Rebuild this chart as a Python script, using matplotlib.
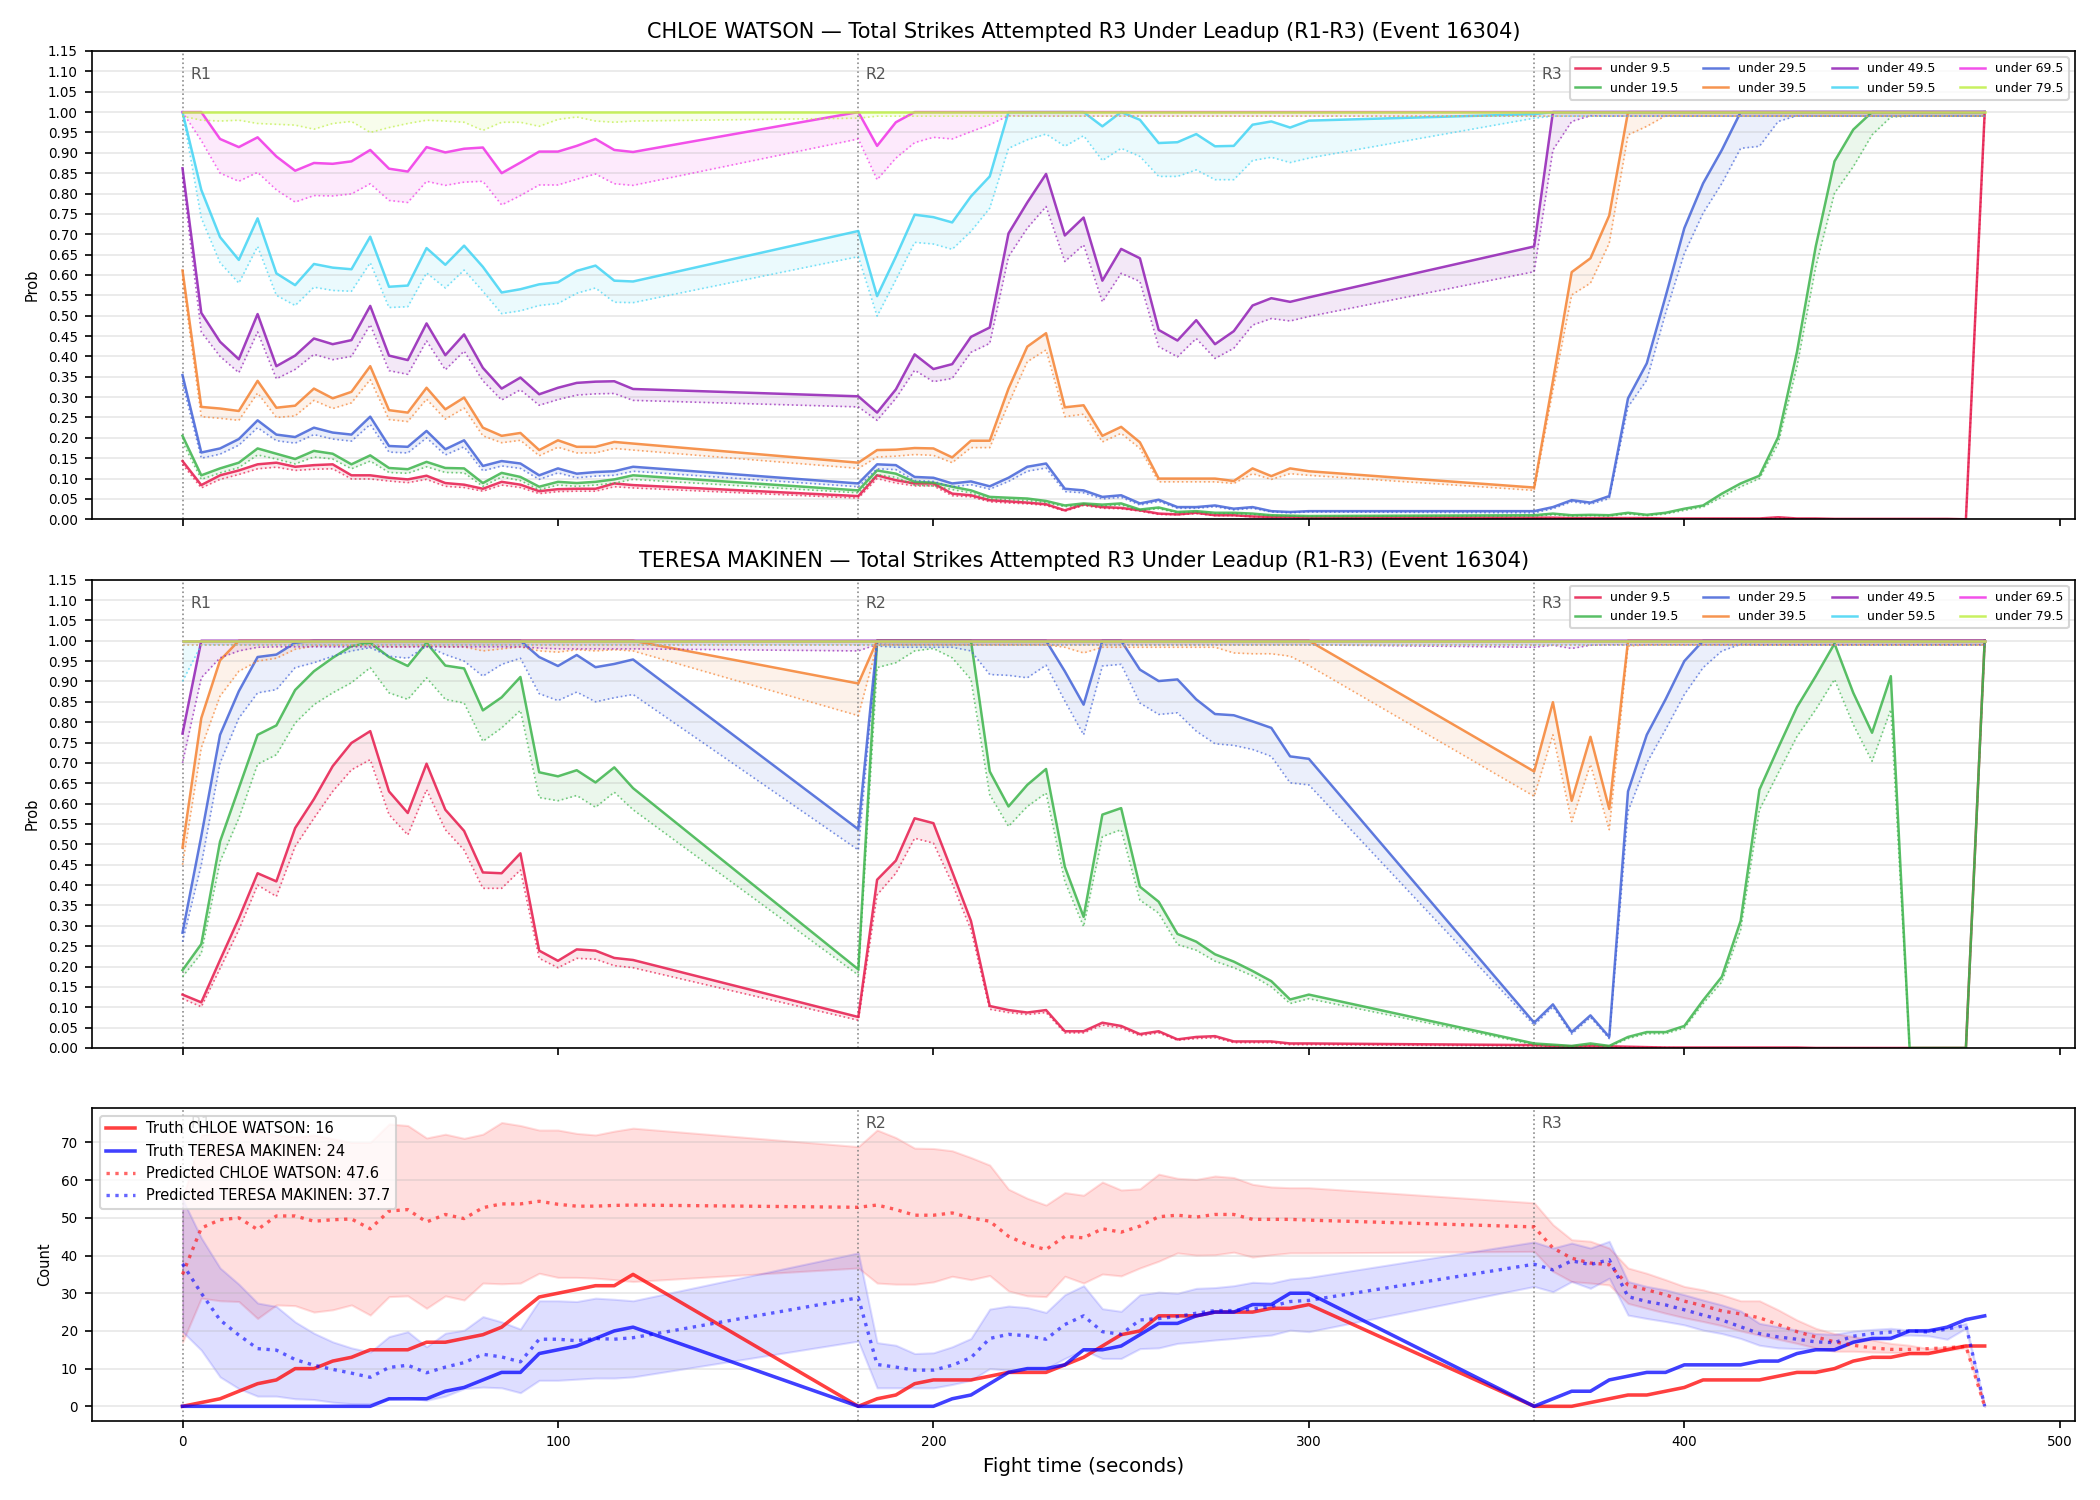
import matplotlib
matplotlib.use("Agg")
import matplotlib.pyplot as plt
import numpy as np

# sample times (s): every 5 s in the tracked part of each round
T = list(range(0, 121, 5)) + list(range(180, 301, 5)) + list(range(360, 481, 5))
ROUND_STARTS = [0, 180, 360]
ROUND_NAMES = ["R1", "R2", "R3"]
THRESHOLDS = [9.5, 19.5, 29.5, 39.5, 49.5, 59.5, 69.5, 79.5]
COLORS = ['#e6194b', '#3cb44b', '#4363d8', '#f58231',
          '#911eb4', '#42d4f4', '#f032e6', '#bfef45']

FIGHTER_A = "CHLOE WATSON"
FIGHTER_B = "TERESA MAKINEN"
EVENT = 16304

# ---------------- CHLOE WATSON: P(under X) ----------------
CW_U9_HI = ([0.143, 0.084, 0.108, 0.120, 0.135, 0.139, 0.129, 0.133, 0.135, 0.108,
             0.108, 0.102, 0.098, 0.107, 0.089, 0.085, 0.075, 0.092, 0.085, 0.069,
             0.074, 0.075, 0.075, 0.088, 0.084]
            + [0.057, 0.108, 0.096, 0.088, 0.088, 0.063, 0.059, 0.047, 0.044, 0.041,
               0.037, 0.022, 0.037, 0.030, 0.028, 0.022, 0.014, 0.012, 0.016, 0.010,
               0.010, 0.007, 0.006, 0.006, 0.004]
            + [0.004, 0.004, 0.003, 0.003, 0.003, 0.003, 0.003, 0.002, 0.002, 0.002,
               0.002, 0.002, 0.002, 0.005, 0.002, 0.002, 0.001, 0.001, 0.001, 0.001,
               0.001, 0.001, 0.001, 0.000, 1.000])
CW_U9_LO = ([0.135, 0.077, 0.098, 0.110, 0.124, 0.128, 0.120, 0.123, 0.124, 0.099,
             0.099, 0.094, 0.090, 0.098, 0.081, 0.078, 0.069, 0.084, 0.078, 0.063,
             0.068, 0.069, 0.069, 0.080, 0.077]
            + [0.052, 0.100, 0.089, 0.082, 0.082, 0.058, 0.055, 0.043, 0.040, 0.038,
               0.034, 0.020, 0.034, 0.027, 0.026, 0.020, 0.012, 0.011, 0.014, 0.009,
               0.009, 0.006, 0.005, 0.005, 0.003]
            + [0.003, 0.003, 0.002, 0.002, 0.002, 0.002, 0.002, 0.001, 0.001, 0.001,
               0.001, 0.001, 0.001, 0.004, 0.001, 0.001, 0.001, 0.0, 0.0, 0.0,
               0.0, 0.0, 0.0, 0.0, 0.99])

CW_U19_HI = ([0.205, 0.108, 0.125, 0.139, 0.174, 0.161, 0.148, 0.168, 0.161, 0.135,
              0.157, 0.126, 0.123, 0.141, 0.126, 0.125, 0.089, 0.114, 0.104, 0.080,
              0.092, 0.089, 0.092, 0.098, 0.108]
             + [0.071, 0.120, 0.112, 0.092, 0.090, 0.080, 0.071, 0.055, 0.053, 0.051,
                0.045, 0.034, 0.039, 0.036, 0.039, 0.024, 0.029, 0.018, 0.020, 0.016,
                0.016, 0.014, 0.010, 0.009, 0.008]
             + [0.010, 0.014, 0.010, 0.011, 0.010, 0.016, 0.011, 0.016, 0.026, 0.034,
                0.063, 0.088, 0.107, 0.202, 0.411, 0.670, 0.879, 0.957, 1.0, 1.0,
                1.0, 1.0, 1.0, 1.0, 1.0])
CW_U19_LO = ([0.190, 0.098, 0.114, 0.127, 0.158, 0.148, 0.136, 0.153, 0.148, 0.124,
              0.143, 0.115, 0.113, 0.129, 0.115, 0.114, 0.081, 0.104, 0.095, 0.073,
              0.084, 0.081, 0.084, 0.089, 0.098]
             + [0.065, 0.110, 0.103, 0.084, 0.082, 0.073, 0.065, 0.050, 0.048, 0.046,
                0.041, 0.031, 0.035, 0.033, 0.035, 0.022, 0.026, 0.016, 0.018, 0.014,
                0.014, 0.012, 0.009, 0.008, 0.007]
             + [0.008, 0.011, 0.008, 0.009, 0.008, 0.013, 0.009, 0.013, 0.022, 0.030,
                0.055, 0.080, 0.100, 0.186, 0.375, 0.620, 0.801, 0.866, 0.944, 0.988,
                0.99, 0.99, 0.99, 0.99, 0.99])

CW_U29_HI = ([0.354, 0.164, 0.174, 0.197, 0.243, 0.208, 0.202, 0.225, 0.213, 0.208,
              0.252, 0.180, 0.178, 0.217, 0.172, 0.194, 0.131, 0.143, 0.137, 0.108,
              0.125, 0.112, 0.116, 0.118, 0.129]
             + [0.088, 0.135, 0.133, 0.104, 0.102, 0.088, 0.093, 0.081, 0.102, 0.129,
                0.137, 0.075, 0.071, 0.055, 0.059, 0.039, 0.048, 0.030, 0.030, 0.034,
                0.026, 0.030, 0.020, 0.018, 0.020]
             + [0.020, 0.030, 0.047, 0.041, 0.057, 0.297, 0.383, 0.547, 0.715, 0.825,
                0.907] + [1.0] * 14)
CW_U29_LO = ([0.335, 0.150, 0.160, 0.182, 0.225, 0.193, 0.187, 0.208, 0.197, 0.192,
              0.233, 0.165, 0.163, 0.200, 0.158, 0.178, 0.119, 0.131, 0.125, 0.098,
              0.114, 0.102, 0.106, 0.108, 0.118]
             + [0.080, 0.124, 0.122, 0.095, 0.093, 0.080, 0.085, 0.074, 0.093, 0.118,
                0.126, 0.068, 0.065, 0.050, 0.054, 0.035, 0.044, 0.027, 0.027, 0.031,
                0.023, 0.027, 0.018, 0.016, 0.018]
             + [0.016, 0.026, 0.043, 0.037, 0.051, 0.276, 0.342, 0.506, 0.653, 0.752,
                0.825, 0.911, 0.916, 0.977, 0.991] + [0.99] * 10)

CW_U39_HI = ([0.611, 0.276, 0.272, 0.266, 0.340, 0.274, 0.279, 0.321, 0.297, 0.313,
              0.376, 0.268, 0.262, 0.323, 0.270, 0.299, 0.225, 0.205, 0.212, 0.170,
              0.194, 0.178, 0.178, 0.190, 0.186]
             + [0.139, 0.170, 0.171, 0.175, 0.174, 0.152, 0.193, 0.193, 0.321, 0.424,
                0.457, 0.275, 0.280, 0.205, 0.227, 0.189, 0.100, 0.100, 0.100, 0.100,
                0.094, 0.125, 0.106, 0.125, 0.118]
             + [0.078, 0.340, 0.607, 0.641, 0.746] + [1.0] * 20)
CW_U39_LO = ([0.590, 0.252, 0.248, 0.243, 0.310, 0.250, 0.254, 0.292, 0.272, 0.286,
              0.343, 0.245, 0.240, 0.295, 0.246, 0.273, 0.205, 0.188, 0.194, 0.156,
              0.177, 0.163, 0.163, 0.174, 0.170]
             + [0.125, 0.153, 0.155, 0.159, 0.157, 0.139, 0.176, 0.176, 0.284, 0.387,
                0.416, 0.252, 0.258, 0.190, 0.211, 0.174, 0.092, 0.092, 0.092, 0.092,
                0.088, 0.112, 0.098, 0.112, 0.108]
             + [0.071, 0.317, 0.551, 0.580, 0.678, 0.944, 0.965, 0.991] + [0.99] * 17)

CW_U49_HI = ([0.862, 0.507, 0.436, 0.393, 0.504, 0.376, 0.402, 0.444, 0.430, 0.440,
              0.524, 0.402, 0.391, 0.481, 0.403, 0.454, 0.372, 0.321, 0.348, 0.307,
              0.323, 0.335, 0.338, 0.339, 0.320]
             + [0.302, 0.262, 0.319, 0.405, 0.369, 0.381, 0.448, 0.471, 0.702, 0.778,
                0.848, 0.697, 0.741, 0.586, 0.664, 0.641, 0.465, 0.439, 0.489, 0.430,
                0.462, 0.525, 0.543, 0.534, 0.545]
             + [0.670] + [1.0] * 24)
CW_U49_LO = ([0.840, 0.460, 0.400, 0.360, 0.460, 0.345, 0.368, 0.405, 0.392, 0.400,
              0.478, 0.365, 0.356, 0.438, 0.367, 0.413, 0.340, 0.293, 0.318, 0.280,
              0.294, 0.305, 0.308, 0.309, 0.292]
             + [0.276, 0.243, 0.297, 0.366, 0.338, 0.346, 0.410, 0.432, 0.645, 0.715,
                0.768, 0.633, 0.674, 0.534, 0.604, 0.584, 0.424, 0.399, 0.444, 0.395,
                0.420, 0.477, 0.493, 0.487, 0.498]
             + [0.608, 0.907, 0.977, 0.991] + [0.99] * 21)

CW_U59_HI = ([1.0, 0.809, 0.693, 0.637, 0.739, 0.604, 0.575, 0.627, 0.618, 0.614,
              0.694, 0.571, 0.574, 0.666, 0.625, 0.672, 0.620, 0.557, 0.565, 0.577,
              0.582, 0.610, 0.623, 0.586, 0.584]
             + [0.708, 0.548, 0.645, 0.748, 0.742, 0.729, 0.793, 0.842, 1.0, 1.0,
                1.0, 1.0, 1.0, 0.965, 1.0, 0.981, 0.924, 0.926, 0.946, 0.916,
                0.917, 0.969, 0.977, 0.962, 0.979]
             + [0.995] + [1.0] * 24)
CW_U59_LO = ([1.0, 0.740, 0.630, 0.580, 0.670, 0.550, 0.525, 0.570, 0.562, 0.560,
              0.630, 0.520, 0.522, 0.605, 0.568, 0.612, 0.560, 0.505, 0.512, 0.525,
              0.530, 0.555, 0.568, 0.533, 0.532]
             + [0.645, 0.499, 0.588, 0.680, 0.676, 0.663, 0.707, 0.764, 0.911, 0.932,
                0.946, 0.916, 0.942, 0.881, 0.911, 0.891, 0.842, 0.842, 0.858, 0.834,
                0.834, 0.881, 0.889, 0.876, 0.887]
             + [0.985] + [0.99] * 24)

CW_U69_HI = ([1.0, 1.0, 0.934, 0.914, 0.938, 0.891, 0.856, 0.875, 0.873, 0.879,
              0.907, 0.861, 0.854, 0.914, 0.901, 0.910, 0.913, 0.850, 0.876, 0.903,
              0.903, 0.917, 0.934, 0.907, 0.902]
             + [1.0, 0.917, 0.975] + [1.0] * 22
             + [1.0] * 25)
CW_U69_LO = ([1.0, 0.930, 0.850, 0.830, 0.852, 0.809, 0.779, 0.795, 0.794, 0.799,
              0.824, 0.783, 0.778, 0.830, 0.820, 0.828, 0.830, 0.772, 0.795, 0.821,
              0.821, 0.835, 0.848, 0.824, 0.820]
             + [0.934, 0.834, 0.887, 0.925, 0.938, 0.934, 0.952, 0.969, 0.991] + [0.99] * 16
             + [0.99] * 25)

CW_U79_HI = [1.0] * 75
CW_U79_LO = ([0.99, 0.98, 0.978, 0.98, 0.972, 0.97, 0.968, 0.958, 0.972, 0.977,
              0.95, 0.962, 0.972, 0.98, 0.978, 0.975, 0.955, 0.975, 0.975, 0.965,
              0.982, 0.988, 0.978, 0.975, 0.978]
             + [0.985] + [0.99] * 24
             + [0.99] * 25)

# ---------------- TERESA MAKINEN: P(under X) ----------------
TM_U9_HI = ([0.131, 0.112, 0.216, 0.318, 0.429, 0.409, 0.540, 0.611, 0.692, 0.749,
             0.778, 0.630, 0.577, 0.698, 0.585, 0.533, 0.431, 0.429, 0.478, 0.239,
             0.214, 0.242, 0.239, 0.221, 0.216]
            + [0.076, 0.413, 0.460, 0.564, 0.552, 0.433, 0.312, 0.103, 0.093, 0.087,
               0.093, 0.041, 0.041, 0.062, 0.054, 0.034, 0.041, 0.021, 0.027, 0.029,
               0.016, 0.016, 0.016, 0.011, 0.011]
            + [0.007, 0.005, 0.004, 0.005, 0.004, 0.003, 0.002, 0.001, 0.001, 0.001,
               0.001, 0.001, 0.001, 0.001, 0.001, 0.0, 0.0, 0.0, 0.0, 0.0,
               0.0, 0.0, 0.0, 0.0, 1.0])
TM_U9_LO = ([0.121, 0.101, 0.195, 0.290, 0.400, 0.372, 0.495, 0.564, 0.630, 0.683,
             0.708, 0.573, 0.523, 0.634, 0.536, 0.486, 0.392, 0.392, 0.437, 0.220,
             0.197, 0.220, 0.218, 0.202, 0.197]
            + [0.068, 0.376, 0.429, 0.515, 0.503, 0.404, 0.290, 0.095, 0.087, 0.082,
               0.087, 0.037, 0.037, 0.056, 0.049, 0.030, 0.037, 0.019, 0.023, 0.025,
               0.013, 0.013, 0.013, 0.008, 0.008]
            + [0.005, 0.004, 0.003, 0.004, 0.003, 0.002, 0.001, 0.001] + [0.0] * 16 + [0.99])

TM_U19_HI = ([0.191, 0.255, 0.507, 0.638, 0.769, 0.792, 0.879, 0.925, 0.958, 0.987,
              0.995, 0.960, 0.938, 0.995, 0.939, 0.932, 0.829, 0.861, 0.911, 0.677,
              0.667, 0.682, 0.652, 0.689, 0.638]
             + [0.193, 1.0, 1.0, 1.0, 1.0, 1.0, 1.0, 0.679, 0.593, 0.646,
                0.685, 0.445, 0.322, 0.573, 0.589, 0.396, 0.359, 0.280, 0.261, 0.230,
                0.212, 0.189, 0.164, 0.119, 0.131]
             + [0.011, 0.008, 0.005, 0.011, 0.005, 0.027, 0.039, 0.039, 0.054, 0.117,
                0.175, 0.312, 0.634, 0.737, 0.837, 0.913, 0.993, 0.872, 0.774, 0.913,
                0.0, 0.0, 0.0, 0.0, 1.0])
TM_U19_LO = ([0.175, 0.232, 0.458, 0.564, 0.697, 0.720, 0.798, 0.843, 0.872, 0.897,
              0.934, 0.872, 0.856, 0.909, 0.856, 0.847, 0.753, 0.786, 0.829, 0.615,
              0.607, 0.620, 0.591, 0.628, 0.585]
             + [0.179, 0.934, 0.946, 0.975, 0.981, 0.958, 0.905, 0.622, 0.544, 0.593,
                0.626, 0.409, 0.298, 0.519, 0.536, 0.363, 0.331, 0.254, 0.240, 0.213,
                0.197, 0.177, 0.150, 0.109, 0.121]
             + [0.008, 0.006, 0.003, 0.008, 0.003, 0.023, 0.035, 0.035, 0.049, 0.109,
                0.162, 0.290, 0.585, 0.675, 0.765, 0.831, 0.905, 0.794, 0.704, 0.831,
                0.0, 0.0, 0.0, 0.0, 0.99])

TM_U29_HI = ([0.283, 0.520, 0.769, 0.876, 0.960, 0.966, 0.995] + [1.0] * 12
             + [0.960, 0.938, 0.965, 0.935, 0.943, 0.954]
             + [0.537] + [1.0] * 10
             + [0.925, 0.843, 1.0, 1.0, 0.929, 0.901, 0.905, 0.856, 0.820,
                0.817, 0.802, 0.786, 0.716, 0.710]
             + [0.062, 0.107, 0.039, 0.080, 0.027, 0.630, 0.769, 0.856, 0.950] + [1.0] * 16)
TM_U29_LO = ([0.261, 0.450, 0.700, 0.810, 0.872, 0.880, 0.934, 0.946, 0.962, 0.975,
              0.983, 0.962, 0.957, 0.987, 0.966, 0.950, 0.913, 0.942, 0.957, 0.870,
              0.853, 0.874, 0.850, 0.860, 0.868]
             + [0.486, 0.987, 0.984, 0.984, 0.984, 0.984, 0.975, 0.917, 0.915, 0.909,
                0.940, 0.852, 0.769, 0.938, 0.942, 0.847, 0.819, 0.823, 0.778, 0.747,
                0.743, 0.733, 0.716, 0.651, 0.646]
             + [0.056, 0.101, 0.034, 0.075, 0.023, 0.581, 0.700, 0.782, 0.868, 0.934,
                0.975, 0.991] + [0.99] * 13)

TM_U39_HI = ([0.492, 0.810, 0.952] + [1.0] * 22
             + [0.895] + [1.0] * 24
             + [0.679, 0.849, 0.607, 0.764, 0.587] + [1.0] * 20)
TM_U39_LO = ([0.450, 0.737, 0.864, 0.925, 0.950, 0.957, 0.979, 0.987, 0.988, 0.988,
              0.988, 0.985, 0.985, 0.988, 0.985, 0.985, 0.975, 0.980, 0.985, 0.975,
              0.972, 0.978, 0.975, 0.978, 0.975]
             + [0.816, 0.989, 0.99, 0.99, 0.99, 0.99, 0.99, 0.99, 0.99, 0.99,
                0.99, 0.984, 0.970, 0.984, 0.984, 0.984, 0.984, 0.984, 0.984, 0.984,
                0.970, 0.968, 0.968, 0.962, 0.939]
             + [0.618, 0.769, 0.556, 0.696, 0.536, 0.987] + [0.99] * 19)

TM_U49_HI = [0.772] + [1.0] * 74
TM_U49_LO = ([0.700, 0.909, 0.958, 0.975, 0.984] + [0.985] * 14 + [0.982] + [0.980] * 5
             + [0.975, 0.991] + [0.99] * 23
             + [0.984, 0.989, 0.981, 0.989] + [0.99] * 21)

TM_U59_HI = [1.0] * 75
TM_U59_LO = [0.90] + [0.99] * 74
TM_U69_HI = [1.0] * 75
TM_U69_LO = [0.99] * 75
TM_U79_HI = [1.0] * 75
TM_U79_LO = [0.99] * 75

# ---------------- counts (cumulative within round) ----------------
CW_TRUTH = ([0, 1, 2, 4, 6, 7, 10, 10, 12, 13, 15, 15, 15, 17, 17, 18, 19, 21, 25, 29,
             30, 31, 32, 32, 35]
            + [0, 2, 3, 6, 7, 7, 7, 8, 9, 9, 9, 11, 13, 16, 19, 20, 24, 24, 24, 25,
               25, 25, 26, 26, 27]
            + [0, 0, 0, 1, 2, 3, 3, 4, 5, 7, 7, 7, 7, 8, 9, 9, 10, 12, 13, 13,
               14, 14, 15, 16, 16])
TM_TRUTH = ([0, 0, 0, 0, 0, 0, 0, 0, 0, 0, 0, 2, 2, 2, 4, 5, 7, 9, 9, 14,
             15, 16, 18, 20, 21]
            + [0, 0, 0, 0, 0, 2, 3, 6, 9, 10, 10, 11, 15, 15, 16, 19, 22, 22, 24, 25,
               25, 27, 27, 30, 30]
            + [0, 2, 4, 4, 7, 8, 9, 9, 11, 11, 11, 11, 12, 12, 14, 15, 15, 17, 18, 18,
               20, 20, 21, 23, 24])

CW_PRED = ([35.0, 47.3, 49.5, 50.0, 46.9, 50.5, 50.5, 49.1, 49.5, 49.7,
            47.1, 51.8, 52.2, 48.9, 50.9, 49.8, 52.7, 53.7, 53.7, 54.4,
            53.6, 53.1, 53.1, 53.3, 53.4]
           + [52.8, 53.4, 52.2, 50.7, 50.7, 51.3, 50.0, 49.1, 45.1, 42.9,
              41.6, 45.1, 44.7, 47.1, 46.2, 47.8, 50.3, 50.7, 50.2, 50.9,
              50.9, 49.6, 49.6, 49.6, 49.4]
           + [47.6, 42.0, 39.3, 38.0, 37.6, 32.2, 30.9, 29.6, 27.9, 26.7,
              25.3, 24.5, 23.5, 21.7, 19.8, 18.4, 17.1, 16.2, 15.5, 15.1,
              15.1, 15.3, 15.5, 15.9, 0.0])
CW_PRED_HI = ([55.0, 72.0, 72.5, 73.0, 73.0, 72.0, 71.5, 72.0, 71.0, 70.0,
               70.0, 74.9, 74.5, 71.2, 72.2, 71.1, 72.2, 75.3, 74.5, 73.3,
               73.3, 72.4, 72.0, 73.0, 73.8]
              + [68.9, 73.3, 71.3, 68.5, 68.4, 67.8, 66.0, 64.0, 57.6, 55.2,
                 53.4, 56.7, 56.0, 59.5, 57.4, 57.7, 61.6, 60.5, 60.2, 61.1,
                 60.7, 58.9, 58.2, 58.0, 58.0]
              + [54.0, 48.2, 44.2, 43.8, 42.0, 36.7, 35.3, 33.6, 31.8, 30.9,
                 29.6, 28.0, 28.0, 25.6, 22.9, 20.7, 19.3, 18.5, 17.6, 16.7,
                 16.2, 15.3, 15.8, 16.4, 0.0])
CW_PRED_LO = ([17.0, 28.7, 28.0, 27.8, 23.3, 26.9, 26.7, 25.0, 25.6, 26.9,
               24.2, 29.1, 29.3, 26.0, 29.3, 28.2, 32.7, 32.5, 32.7, 35.3,
               34.2, 34.2, 34.0, 33.6, 33.1]
              + [36.7, 32.7, 32.4, 32.4, 33.0, 34.5, 33.6, 34.7, 30.6, 29.3,
                 29.1, 34.5, 32.7, 35.1, 34.6, 36.7, 38.5, 40.7, 40.1, 40.2,
                 40.9, 39.6, 40.2, 40.7, 40.7]
              + [41.1, 35.8, 33.1, 32.7, 32.2, 27.3, 26.0, 24.7, 23.5, 22.5,
                 21.4, 20.0, 18.9, 17.8, 16.7, 15.5, 14.6, 14.6, 14.4, 14.3,
                 14.3, 14.3, 14.9, 15.5, 0.0])

TM_PRED = ([37.8, 30.0, 22.9, 18.9, 15.3, 14.9, 12.4, 10.9, 9.8, 8.8,
            7.7, 10.3, 10.9, 8.9, 10.4, 11.6, 13.8, 13.1, 11.8, 17.8,
            17.8, 17.4, 18.0, 17.8, 18.2]
           + [28.8, 11.1, 10.4, 9.6, 9.6, 10.9, 12.9, 18.0, 19.1, 18.7,
              17.8, 21.7, 24.0, 19.8, 19.1, 22.9, 23.3, 23.8, 24.7, 25.4,
              25.4, 25.8, 26.5, 27.8, 28.1]
           + [37.7, 36.2, 38.6, 37.6, 38.9, 29.1, 27.8, 26.9, 25.6, 24.2,
              22.9, 21.1, 19.3, 18.4, 17.8, 17.1, 16.9, 18.6, 19.3, 19.7,
              20.0, 19.7, 20.5, 21.5, 0.0])
TM_PRED_HI = ([55.0, 44.7, 36.7, 32.4, 27.4, 26.5, 22.4, 19.4, 17.1, 15.5,
               14.4, 18.5, 19.8, 15.8, 19.4, 20.2, 23.8, 22.4, 20.5, 28.0,
               28.0, 27.8, 28.7, 28.4, 28.0]
              + [40.7, 16.9, 16.2, 14.0, 14.2, 15.8, 18.0, 25.8, 26.6, 26.2,
                 24.9, 29.6, 32.0, 25.9, 25.2, 29.6, 30.3, 30.0, 31.3, 31.5,
                 32.0, 32.9, 32.7, 33.8, 34.2]
              + [43.6, 42.0, 43.3, 42.0, 43.8, 33.1, 31.8, 30.9, 29.6, 28.2,
                 26.9, 25.3, 22.0, 21.1, 20.2, 19.3, 19.1, 20.0, 20.4, 20.7,
                 20.2, 20.5, 20.7, 22.0, 0.0])
TM_PRED_LO = ([19.8, 14.9, 7.8, 4.7, 2.7, 2.7, 2.0, 1.8, 1.1, 0.7,
               0.7, 2.0, 2.3, 1.6, 2.7, 4.7, 5.1, 4.9, 3.6, 6.9,
               6.9, 7.2, 7.5, 7.5, 7.8]
              + [17.3, 4.9, 4.9, 4.9, 4.9, 5.8, 6.9, 10.0, 9.6, 10.0,
                 10.0, 12.7, 14.9, 12.7, 12.7, 15.3, 15.5, 16.7, 17.1, 17.6,
                 18.0, 18.5, 18.9, 20.2, 19.8]
              + [31.8, 30.4, 33.1, 31.3, 34.0, 24.2, 23.3, 22.5, 21.6, 20.2,
                 19.3, 18.0, 16.2, 15.5, 15.3, 15.2, 14.9, 16.9, 17.8, 18.5,
                 18.9, 18.7, 17.8, 20.7, 0.0])

CW_HI = [CW_U9_HI, CW_U19_HI, CW_U29_HI, CW_U39_HI, CW_U49_HI, CW_U59_HI, CW_U69_HI, CW_U79_HI]
CW_LO = [CW_U9_LO, CW_U19_LO, CW_U29_LO, CW_U39_LO, CW_U49_LO, CW_U59_LO, CW_U69_LO, CW_U79_LO]
TM_HI = [TM_U9_HI, TM_U19_HI, TM_U29_HI, TM_U39_HI, TM_U49_HI, TM_U59_HI, TM_U69_HI, TM_U79_HI]
TM_LO = [TM_U9_LO, TM_U19_LO, TM_U29_LO, TM_U39_LO, TM_U49_LO, TM_U59_LO, TM_U69_LO, TM_U79_LO]

for s in CW_HI + CW_LO + TM_HI + TM_LO + [CW_TRUTH, TM_TRUTH, CW_PRED, CW_PRED_HI, CW_PRED_LO,
                                          TM_PRED, TM_PRED_HI, TM_PRED_LO]:
    assert len(s) == len(T), len(s)


def mark_rounds(ax):
    for start, name in zip(ROUND_STARTS, ROUND_NAMES):
        ax.axvline(start, color="gray", ls=":", lw=0.8, alpha=0.9, zorder=1)
        ax.text(start + 2, 0.95, name, transform=ax.get_xaxis_transform(),
                fontsize=7.5, color="#555555", va="center", ha="left")


def prob_panel(ax, name, hi_list, lo_list):
    for thr, col, hi, lo in zip(THRESHOLDS, COLORS, hi_list, lo_list):
        ax.fill_between(T, lo, hi, color=col, alpha=0.1, linewidth=0)
        ax.plot(T, lo, color=col, lw=0.8, ls=":", alpha=0.7)
        ax.plot(T, hi, color=col, lw=1.2, alpha=0.85, label=f"under {thr}")
    ax.set_ylim(0, 1.15)
    ax.set_yticks(np.arange(0, 1.151, 0.05))
    ax.yaxis.set_major_formatter(matplotlib.ticker.FormatStrFormatter("%.2f"))
    ax.set_ylabel("Prob", fontsize=7)
    ax.set_title(f"{name} — Total Strikes Attempted R3 Under Leadup (R1-R3) (Event {EVENT})",
                 fontsize=10)
    ax.grid(axis="y", alpha=0.3)
    mark_rounds(ax)
    ax.legend(loc="upper right", ncol=4, fontsize=6)


fig, axes = plt.subplots(3, 1, figsize=(14, 10), dpi=150, sharex=True,
                         gridspec_kw={"height_ratios": [1.5, 1.5, 1]})
fig.subplots_adjust(left=0.044, right=0.988, top=0.966, bottom=0.053, hspace=0.145)

prob_panel(axes[0], FIGHTER_A, CW_HI, CW_LO)
prob_panel(axes[1], FIGHTER_B, TM_HI, TM_LO)

# counts panel
ax = axes[2]
ax.fill_between(T, CW_PRED_LO, CW_PRED_HI, color="red", alpha=0.13)
ax.fill_between(T, TM_PRED_LO, TM_PRED_HI, color="blue", alpha=0.13)
ax.plot(T, CW_TRUTH, color="red", lw=1.7, alpha=0.75, label=f"Truth {FIGHTER_A}: {CW_TRUTH[-1]}")
ax.plot(T, TM_TRUTH, color="blue", lw=1.7, alpha=0.75, label=f"Truth {FIGHTER_B}: {TM_TRUTH[-1]}")
ax.plot(T, CW_PRED, color="red", lw=1.6, ls=":", alpha=0.6,
        label=f"Predicted {FIGHTER_A}: {CW_PRED[50]}")
ax.plot(T, TM_PRED, color="blue", lw=1.6, ls=":", alpha=0.6,
        label=f"Predicted {FIGHTER_B}: {TM_PRED[50]}")
ax.set_ylabel("Count", fontsize=7)
ax.grid(axis="y", alpha=0.3)
mark_rounds(ax)
ax.legend(loc="upper left", fontsize=7)
ax.set_xlabel("Fight time (seconds)", fontsize=9.5)

for a in axes:
    a.tick_params(labelsize=6.5)

fig.savefig("out.png", dpi=150)
